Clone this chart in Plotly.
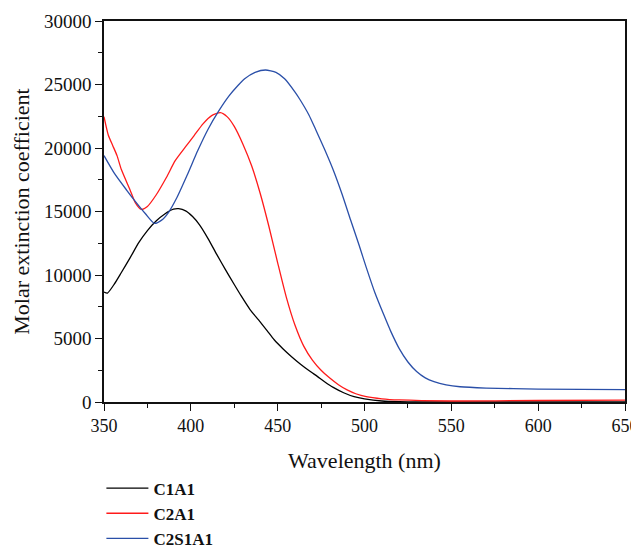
import plotly.graph_objects as go

# C1A1
c1_wl = [350, 352, 356, 360, 365, 370, 375, 380, 385, 390, 393, 397, 401, 405, 410, 415, 420, 425, 429, 434, 439, 444, 448, 453, 458, 463, 468, 473, 477, 482, 488, 494, 500, 510, 520, 535, 560, 600, 650]
c1_val = [8650, 8580, 9300, 10200, 11350, 12550, 13500, 14250, 14800, 15180, 15220, 15050, 14600, 13950, 12850, 11600, 10400, 9250, 8350, 7300, 6460, 5600, 4900, 4200, 3570, 3000, 2480, 2000, 1600, 1150, 730, 420, 250, 80, 20, 0, 0, 0, 0]

# C2A1
c2_wl = [350, 352.5, 355, 357.5, 360, 365, 368, 371.5, 375, 380, 386, 391, 397, 402, 407, 412, 417, 421, 425, 430, 435, 440, 445, 450, 455, 460, 465, 470, 475, 480, 485, 490, 495, 501, 510, 520, 550, 600, 650]
c2_val = [22470, 21000, 20200, 19400, 18300, 16700, 15700, 15170, 15400, 16300, 17700, 19000, 20100, 21000, 21900, 22550, 22780, 22450, 21700, 20300, 18600, 16400, 13800, 10960, 8240, 6040, 4400, 3300, 2500, 1880, 1360, 950, 650, 420, 250, 160, 80, 120, 150]

# C2S1A1
c3_wl = [350, 356, 363, 368, 374, 379, 383, 387, 392, 398, 404, 410, 416, 422, 427, 431, 437, 443, 449, 454, 460, 463, 468, 472, 477, 482, 487, 492, 497, 501, 506, 511, 515, 520, 525, 530, 535, 540, 547, 555, 570, 600, 650]
c3_val = [19400, 18000, 16690, 15800, 14800, 14070, 14300, 14900, 16100, 17900, 19800, 21500, 22900, 24100, 24900, 25450, 25950, 26140, 25950, 25450, 24400, 23780, 22600, 21420, 19900, 18270, 16400, 14330, 12300, 10600, 8600, 6900, 5600, 4200, 3150, 2400, 1900, 1600, 1350, 1200, 1100, 1020, 980]

names = ["C1A1", "C2A1", "C2S1A1"]
colors = ["#000000", "#ff1a1a", "#2a4fa8"]

fig = go.Figure()
for wl, val, nm, col in zip([c1_wl, c2_wl, c3_wl], [c1_val, c2_val, c3_val], names, colors):
    fig.add_trace(go.Scatter(x=wl, y=val, mode="lines", name=nm,
                             line=dict(color=col, width=1.3, shape="spline", smoothing=0.6)))

font_family = "Liberation Serif, DejaVu Serif, serif"
# the page body adds an 8 px offset, so the figure is 8 px smaller than the window
fig.update_layout(
    width=631, height=541,
    margin=dict(l=96, r=14, t=13, b=147, autoexpand=False),
    paper_bgcolor="white", plot_bgcolor="white",
    font=dict(family=font_family, size=18, color="#111"),
    showlegend=True,
    legend=dict(x=-0.005, y=-0.18, xanchor="left", yanchor="top",
                font=dict(family=font_family, size=17, color="#111", weight="bold"),
                itemwidth=42, tracegroupgap=0, bgcolor="rgba(0,0,0,0)"),
)
fig.update_xaxes(range=[350, 650], tickvals=[350, 400, 450, 500, 550, 600, 650],
                 tickformat="d", tickfont=dict(size=18), ticklabeloverflow="allow",
                 ticks="outside", ticklen=7, tickwidth=1.2, tickcolor="#111",
                 minor=dict(dtick=25, ticks="outside", ticklen=4, tickcolor="#111", tickwidth=1.2),
                 showline=True, linecolor="#111", linewidth=1.5, mirror=True,
                 showgrid=False, zeroline=False,
                 title=dict(text="Wavelength (nm)", standoff=17))
fig.update_yaxes(range=[0, 30000], tickvals=[0, 5000, 10000, 15000, 20000, 25000, 30000],
                 tickformat="d", tickfont=dict(size=19), ticklabeloverflow="allow",
                 ticks="outside", ticklen=7, tickwidth=1.2, tickcolor="#111",
                 minor=dict(dtick=2500, ticks="outside", ticklen=4, tickcolor="#111", tickwidth=1.2),
                 showline=True, linecolor="#111", linewidth=1.5, mirror=True,
                 showgrid=False, zeroline=False,
                 title=dict(text="Molar extinction coefficient", standoff=8))

fig.write_html("out.html")
